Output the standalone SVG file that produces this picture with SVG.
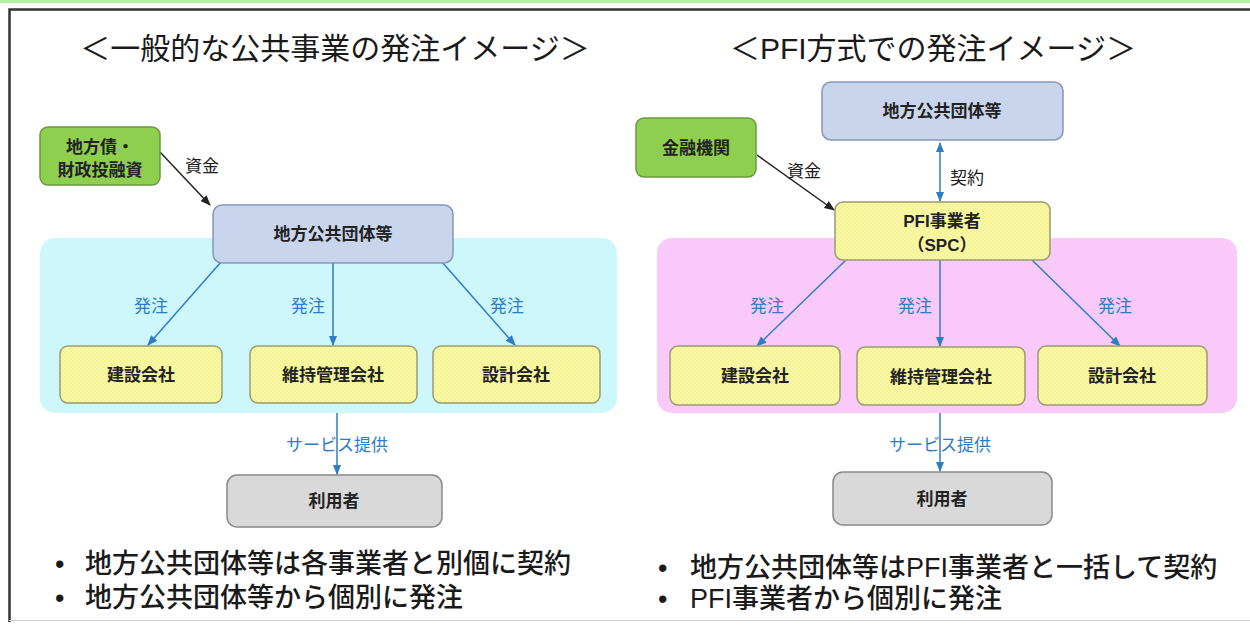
<svg xmlns="http://www.w3.org/2000/svg" width="1250" height="626" viewBox="0 0 1250 626">
<style>
.t{font-family:"Liberation Sans","Noto Sans CJK JP",sans-serif;fill:#1a1a1a}
.title{font-size:30px}
.lbl{font-size:17px;font-weight:700;text-anchor:middle;fill:#222}
.blue{fill:#2f7dc4;font-size:17px;text-anchor:middle}
.bul{font-size:27px;font-weight:500}
.green{fill:#8fcf50;stroke:#6a9a3c;stroke-width:1.5}
.navy{fill:#c9d5ec;stroke:#8797b4;stroke-width:1.5}
.yel{fill:url(#hatch);stroke:#9a9a70;stroke-width:1.5}
.gray{fill:#d9d9d9;stroke:#888;stroke-width:1.5}
.ca{stroke:#2f7dc4;stroke-width:1.5;fill:none;marker-end:url(#ab)}
.ka{stroke:#222;stroke-width:1.5;fill:none;marker-end:url(#ak)}
</style>
<defs>
<pattern id="hatch" width="4" height="4" patternUnits="userSpaceOnUse">
<rect width="4" height="4" fill="#fafa9c"/>
<rect width="2" height="2" fill="#f2f2a0"/>
<rect x="2" y="2" width="2" height="2" fill="#f2f2a0"/>
</pattern>
<marker id="ab" viewBox="0 0 10 10" refX="9" refY="5" markerWidth="7" markerHeight="7" orient="auto-start-reverse"><path d="M0,1 L10,5 L0,9 z" fill="#2f7dc4"/></marker>
<marker id="ak" viewBox="0 0 10 10" refX="9" refY="5" markerWidth="7" markerHeight="7" orient="auto"><path d="M0,1 L10,5 L0,9 z" fill="#222"/></marker>
</defs>
<rect width="1250" height="626" fill="#ffffff"/>
<rect x="0" y="0" width="1250" height="3" fill="#b6f0a8"/>
<path d="M9.5,622 V9.5 H1250" fill="none" stroke="#333" stroke-width="2.5"/>
<line x1="9" y1="620.5" x2="1250" y2="620.5" stroke="#cfcfcf" stroke-width="1"/>

<g id="titles">
<text class="t title" x="335" y="59" text-anchor="middle">＜一般的な公共事業の発注イメージ＞</text>
<text class="t title" x="933" y="59" text-anchor="middle">＜PFI方式での発注イメージ＞</text>
</g>

<g id="backgrounds">
<rect x="40" y="238" width="577" height="175" rx="15" fill="#cdf7fb"/>
<rect x="657" y="238" width="580" height="175" rx="15" fill="#f9c9f9"/>
</g>

<g id="connectors">
<line class="ka" x1="160" y1="152" x2="210" y2="205"/>
<line class="ca" x1="221" y1="262" x2="148" y2="345"/>
<line class="ca" x1="333" y1="263" x2="333" y2="345"/>
<line class="ca" x1="442" y1="262" x2="515" y2="345"/>
<line class="ca" x1="337" y1="413" x2="337" y2="474"/>
<line class="ka" x1="757" y1="155" x2="834" y2="210"/>
<line class="ca" x1="940" y1="143" x2="940" y2="201" style="marker-start:url(#ab)"/>
<line class="ca" x1="846" y1="260" x2="757" y2="346"/>
<line class="ca" x1="940" y1="260" x2="940" y2="346"/>
<line class="ca" x1="1032" y1="260" x2="1120" y2="346"/>
<line class="ca" x1="940" y1="413" x2="940" y2="471"/>
<text class="t" x="202" y="172" font-size="17" text-anchor="middle">資金</text>
<text class="t" x="804" y="177" font-size="17" text-anchor="middle">資金</text>
<text class="t" x="967" y="184" font-size="17" text-anchor="middle">契約</text>
<text class="blue t" x="151" y="312">発注</text>
<text class="blue t" x="308" y="312">発注</text>
<text class="blue t" x="507" y="312">発注</text>
<text class="blue t" x="337" y="451" font-size="16">サービス提供</text>
<text class="blue t" x="767" y="312">発注</text>
<text class="blue t" x="915" y="312">発注</text>
<text class="blue t" x="1115" y="312">発注</text>
<text class="blue t" x="940" y="451" font-size="16">サービス提供</text>
</g>

<g id="L-finance"><rect class="green" x="40" y="127" width="120" height="58" rx="8"/>
<text class="t lbl" x="100" y="153">地方債・</text><text class="t lbl" x="100" y="176">財政投融資</text></g>
<g id="L-gov"><rect class="navy" x="213" y="205" width="240" height="58" rx="9"/>
<text class="t lbl" x="333" y="240">地方公共団体等</text></g>
<g id="L-build"><rect class="yel" x="60" y="346" width="162" height="57" rx="8"/>
<text class="t lbl" x="141" y="381">建設会社</text></g>
<g id="L-maint"><rect class="yel" x="250" y="346" width="167" height="57" rx="8"/>
<text class="t lbl" x="333" y="381">維持管理会社</text></g>
<g id="L-design"><rect class="yel" x="433" y="346" width="167" height="57" rx="8"/>
<text class="t lbl" x="516" y="381">設計会社</text></g>
<g id="L-user"><rect class="gray" x="227" y="475" width="215" height="52" rx="10"/>
<text class="t lbl" x="334" y="507">利用者</text></g>

<g id="R-gov"><rect class="navy" x="822" y="82" width="241" height="58" rx="9"/>
<text class="t lbl" x="942" y="117">地方公共団体等</text></g>
<g id="R-finance"><rect class="green" x="636" y="118" width="120" height="59" rx="8"/>
<text class="t lbl" x="696" y="154">金融機関</text></g>
<g id="R-spc"><rect class="yel" x="835" y="202" width="215" height="58" rx="8"/>
<text class="t lbl" x="942" y="227">PFI事業者</text><text class="t lbl" x="942" y="251">（SPC）</text></g>
<g id="R-build"><rect class="yel" x="670" y="346" width="170" height="59" rx="8"/>
<text class="t lbl" x="755" y="382">建設会社</text></g>
<g id="R-maint"><rect class="yel" x="857" y="347" width="168" height="58" rx="8"/>
<text class="t lbl" x="941" y="383">維持管理会社</text></g>
<g id="R-design"><rect class="yel" x="1038" y="346" width="169" height="59" rx="8"/>
<text class="t lbl" x="1122" y="382">設計会社</text></g>
<g id="R-user"><rect class="gray" x="833" y="472" width="219" height="53" rx="10"/>
<text class="t lbl" x="942" y="505">利用者</text></g>

<g id="notes">
<text class="t bul" x="55" y="573">•</text>
<text class="t bul" x="85" y="573">地方公共団体等は各事業者と別個に契約</text>
<text class="t bul" x="55" y="607">•</text>
<text class="t bul" x="85" y="607">地方公共団体等から個別に発注</text>
<text class="t bul" x="658" y="577">•</text>
<text class="t bul" x="690" y="577">地方公共団体等はPFI事業者と一括して契約</text>
<text class="t bul" x="658" y="608">•</text>
<text class="t bul" x="690" y="608">PFI事業者から個別に発注</text>
</g>
</svg>
